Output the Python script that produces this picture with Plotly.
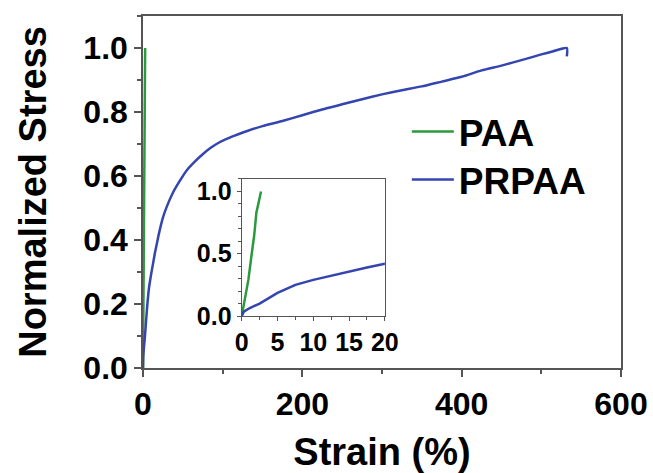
import plotly.graph_objects as go

# PAA
paa_strain = [0, 0.45, 0.93, 1.4, 1.75, 2.05, 2.3, 2.5, 2.7]
paa_stress = [0, 0.15, 0.29, 0.50, 0.65, 0.83, 0.90, 0.97, 1.0]

# PRPAA
prpaa_strain = [0, 0.3, 1, 2.5, 5, 7.5, 10, 12.5, 15, 17.5, 20, 25, 30, 38, 45, 55, 65,
                75, 85, 95, 105, 115, 130, 150, 175, 200, 225, 250, 275, 300, 325, 350,
                375, 400, 425, 450, 475, 500, 515, 532, 532]
prpaa_stress = [0, 0.035, 0.06, 0.10, 0.185, 0.25, 0.29, 0.325, 0.36, 0.39, 0.42, 0.47,
                0.505, 0.55, 0.58, 0.618, 0.645, 0.668, 0.688, 0.704, 0.716, 0.726, 0.74,
                0.756, 0.772, 0.79, 0.808, 0.824, 0.84, 0.855, 0.868, 0.88, 0.895, 0.91,
                0.93, 0.945, 0.962, 0.98, 0.99, 1.0, 0.974]

GREEN = "#2b9a3c"
BLUE = "#3445b0"
FONT = "Liberation Sans, Arial, sans-serif"
AX = "#555555"

fig = go.Figure()
fig.add_trace(go.Scatter(x=paa_strain, y=paa_stress, mode="lines", name="PAA",
                         line=dict(color=GREEN, width=2.5), legend="legend"))
fig.add_trace(go.Scatter(x=prpaa_strain, y=prpaa_stress, mode="lines", name="PRPAA",
                         line=dict(color=BLUE, width=2.5, shape="spline", smoothing=0.6),
                         legend="legend2"))
fig.add_trace(go.Scatter(x=paa_strain, y=paa_stress, mode="lines", showlegend=False,
                         line=dict(color=GREEN, width=2.5), xaxis="x2", yaxis="y2"))
fig.add_trace(go.Scatter(x=prpaa_strain, y=prpaa_stress, mode="lines", showlegend=False,
                         line=dict(color=BLUE, width=2.5), xaxis="x2", yaxis="y2"))

legend_common = dict(xanchor="left", yanchor="middle", bgcolor="rgba(0,0,0,0)",
                     borderwidth=0, itemwidth=42,
                     font=dict(size=37, family=FONT, weight="bold", color="black"))

fig.update_layout(
    template="none",
    width=653, height=473,
    margin=dict(l=143, r=32, t=16, b=105, autoexpand=False),
    paper_bgcolor="white", plot_bgcolor="white",
    font=dict(family=FONT, color="black"),
    xaxis=dict(range=[0, 600], dtick=200, ticks="outside", ticklen=7, tickwidth=1.5,
               tickcolor=AX, showline=True, linecolor=AX, linewidth=1.5, mirror=True,
               showgrid=False, zeroline=False, automargin=False,
               minor=dict(dtick=100, ticks="outside", ticklen=4, tickcolor=AX, tickwidth=1.5),
               tickfont=dict(size=32, family=FONT, weight="bold"),
               title=dict(text="Strain (%)", font=dict(size=38, family=FONT, weight="bold"),
                          standoff=34)),
    yaxis=dict(range=[0, 1.1], dtick=0.2, tickformat=".1f", ticks="outside", ticklen=7,
               tickwidth=1.5, tickcolor=AX, showline=True, linecolor=AX, linewidth=1.5,
               mirror=True, showgrid=False, zeroline=False, automargin=False,
               minor=dict(dtick=0.1, ticks="outside", ticklen=4, tickcolor=AX, tickwidth=1.5),
               tickfont=dict(size=32, family=FONT, weight="bold"),
               title=dict(text="Normalized Stress", font=dict(size=38, family=FONT, weight="bold"),
                          standoff=25)),
    xaxis2=dict(domain=[0.2065, 0.506], anchor="y2", range=[0, 20], dtick=5,
                ticks="outside", ticklen=4, tickwidth=1.2, tickcolor=AX,
                showline=True, linecolor=AX, linewidth=1.2, mirror=True,
                showgrid=False, zeroline=False, automargin=False,
                minor=dict(dtick=2.5, ticks="outside", ticklen=3, tickcolor=AX),
                tickfont=dict(size=25, family=FONT, weight="bold")),
    yaxis2=dict(domain=[0.1477, 0.537], anchor="x2", range=[0, 1.1], dtick=0.5,
                tickformat=".1f", ticks="outside", ticklen=4, tickwidth=1.2, tickcolor=AX,
                showline=True, linecolor=AX, linewidth=1.2, mirror=True,
                showgrid=False, zeroline=False, automargin=False,
                minor=dict(dtick=0.1, ticks="outside", ticklen=3, tickcolor=AX),
                tickfont=dict(size=25, family=FONT, weight="bold")),
    legend=dict(x=0.552, y=0.6705, **legend_common),
    legend2=dict(x=0.552, y=0.534, **legend_common),
    showlegend=True,
)

fig.write_html("out.html")
